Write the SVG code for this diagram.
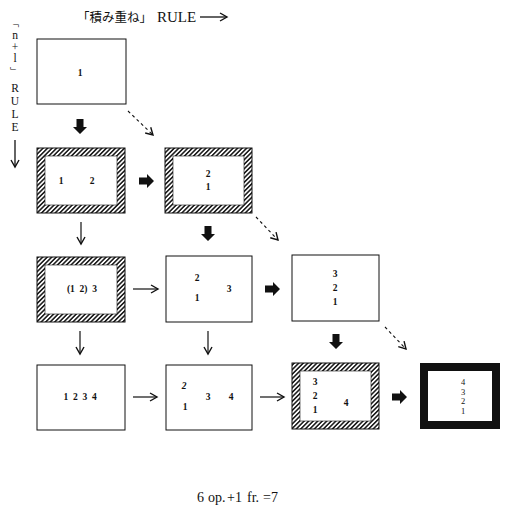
<svg xmlns="http://www.w3.org/2000/svg" width="506" height="505" viewBox="0 0 506 505">
<style>
.frame{fill:none;stroke:#111;stroke-width:1}
.hatch{fill:url(#hp);stroke:#111;stroke-width:1}
.inner{fill:#fff;stroke:#111;stroke-width:0.6}
.num{font-family:"Liberation Serif",serif;font-size:9.5px;font-weight:bold;fill:#111;text-anchor:middle}
.lbl{font-family:"Liberation Serif",serif;font-size:15px;fill:#111}
.thin{stroke:#111;stroke-width:1.2;fill:none;marker-end:url(#v)}
.dash{stroke:#111;stroke-width:1.1;fill:none;stroke-dasharray:3 3;marker-end:url(#v)}
.bold{fill:#111}
</style>
<defs>
<pattern id="hp" patternUnits="userSpaceOnUse" width="3.2" height="3.2" patternTransform="rotate(45)">
<rect width="3.2" height="3.2" fill="#fff"/>
<line x1="0.8" y1="0" x2="0.8" y2="3.2" stroke="#111" stroke-width="1.5"/>
</pattern>
<marker id="v" markerWidth="10" markerHeight="10" refX="8" refY="5" orient="auto" markerUnits="userSpaceOnUse">
<path d="M1,1 L8,5 L1,9" fill="none" stroke="#111" stroke-width="1.4"/>
</marker>
<path id="bd" d="M-3.5,-8 H3.5 V0 H7 L0,7 L-7,0 H-3.5 Z"/>
<path id="br" d="M-8,-3.5 V3.5 H0 V7 L7,0 L0,-7 V-3.5 Z"/>
</defs>

<g id="labels">
<text x="77" y="22" font-family="'Noto Sans CJK JP',sans-serif" font-size="12.5" fill="#111">「積み重ね」</text>
<text x="157" y="22" class="lbl">RULE</text>
<line x1="200" y1="17" x2="227" y2="17" stroke="#111" stroke-width="1.3" marker-end="url(#v)"/>
<g font-family="'Liberation Serif',serif" font-size="11.5" fill="#111" text-anchor="middle">
<text x="15" y="26" font-family="'Noto Sans CJK JP',sans-serif" font-size="8">﹁</text>
<text x="15" y="39">n</text>
<text x="15" y="51">+</text>
<text x="15" y="62">l</text>
<text x="14" y="74" font-family="'Noto Sans CJK JP',sans-serif" font-size="8">﹂</text>
<text x="15" y="92">R</text>
<text x="15" y="105">U</text>
<text x="15" y="118">L</text>
<text x="15" y="131">E</text>
</g>
<line x1="15" y1="140" x2="15" y2="167" stroke="#111" stroke-width="1.3" marker-end="url(#v)"/>
<g font-family="'Liberation Serif',serif" font-size="14" fill="#111">
<text x="197" y="502">6</text>
<text x="208" y="502">op.</text>
<text x="227" y="502">+1</text>
<text x="247" y="502">fr.</text>
<text x="263" y="502">=7</text>
</g>
</g>

<g id="n1">
<rect x="37" y="39" width="89" height="65" class="frame"/>
<text x="80" y="76" class="num">1</text>
</g>
<g id="n2">
<rect x="37" y="148" width="88" height="65" class="hatch"/>
<rect x="45" y="156" width="72" height="49" class="inner"/>
<text x="61" y="184" class="num">1</text>
<text x="92" y="184" class="num">2</text>
</g>
<g id="n3">
<rect x="165" y="148" width="87" height="65" class="hatch"/>
<rect x="173" y="156" width="71" height="49" class="inner"/>
<text x="208" y="177" class="num">2</text>
<text x="208" y="190" class="num">1</text>
</g>
<g id="n4">
<rect x="37" y="257" width="88" height="65" class="hatch"/>
<rect x="45" y="265" width="72" height="49" class="inner"/>
<text x="82" y="292" class="num" xml:space="preserve">(1  2)  3</text>
</g>
<g id="n5">
<rect x="166" y="256" width="86" height="66" class="frame"/>
<text x="197" y="281" class="num">2</text>
<text x="197" y="301" class="num">1</text>
<text x="229" y="292" class="num">3</text>
</g>
<g id="n6">
<rect x="292" y="255" width="87" height="66" class="frame"/>
<text x="335" y="277" class="num">3</text>
<text x="335" y="291" class="num">2</text>
<text x="335" y="305" class="num">1</text>
</g>
<g id="n7">
<rect x="37" y="365" width="88" height="65" class="frame"/>
<text x="80" y="400" class="num" xml:space="preserve">1  2  3  4</text>
</g>
<g id="n8">
<rect x="166" y="365" width="86" height="65" class="frame"/>
<text x="184" y="389" class="num" font-style="italic">2</text>
<text x="185" y="410" class="num">1</text>
<text x="208" y="400" class="num">3</text>
<text x="231" y="400" class="num">4</text>
</g>
<g id="n9">
<rect x="292" y="363" width="87" height="66" class="hatch"/>
<rect x="300" y="371" width="71" height="50" class="inner"/>
<text x="315" y="385" class="num">3</text>
<text x="315" y="399" class="num">2</text>
<text x="315" y="413" class="num">1</text>
<text x="346" y="406" class="num">4</text>
</g>
<g id="n10">
<rect x="424" y="367" width="72" height="58" fill="#fff" stroke="#111" stroke-width="8"/>
<g font-family="'Liberation Serif',serif" font-size="8.5" fill="#111" text-anchor="middle">
<text x="463" y="385">4</text>
<text x="463" y="395">3</text>
<text x="463" y="404">2</text>
<text x="463" y="414">1</text>
</g>
</g>

<g id="connectors">
<use href="#bd" x="80" y="127" class="bold"/>
<use href="#br" x="147" y="181" class="bold"/>
<use href="#bd" x="208" y="234" class="bold"/>
<use href="#br" x="273" y="289" class="bold"/>
<use href="#bd" x="336" y="342" class="bold"/>
<use href="#br" x="400" y="397" class="bold"/>
<line x1="128" y1="111" x2="153" y2="135" class="dash"/>
<line x1="256" y1="217" x2="278" y2="240" class="dash"/>
<line x1="385" y1="327" x2="406" y2="349" class="dash"/>
<line x1="81" y1="222" x2="81" y2="244" class="thin"/>
<line x1="133" y1="289" x2="158" y2="289" class="thin"/>
<line x1="80" y1="331" x2="80" y2="354" class="thin"/>
<line x1="208" y1="331" x2="208" y2="354" class="thin"/>
<line x1="133" y1="397" x2="157" y2="397" class="thin"/>
<line x1="260" y1="397" x2="284" y2="397" class="thin"/>
</g>
</svg>
